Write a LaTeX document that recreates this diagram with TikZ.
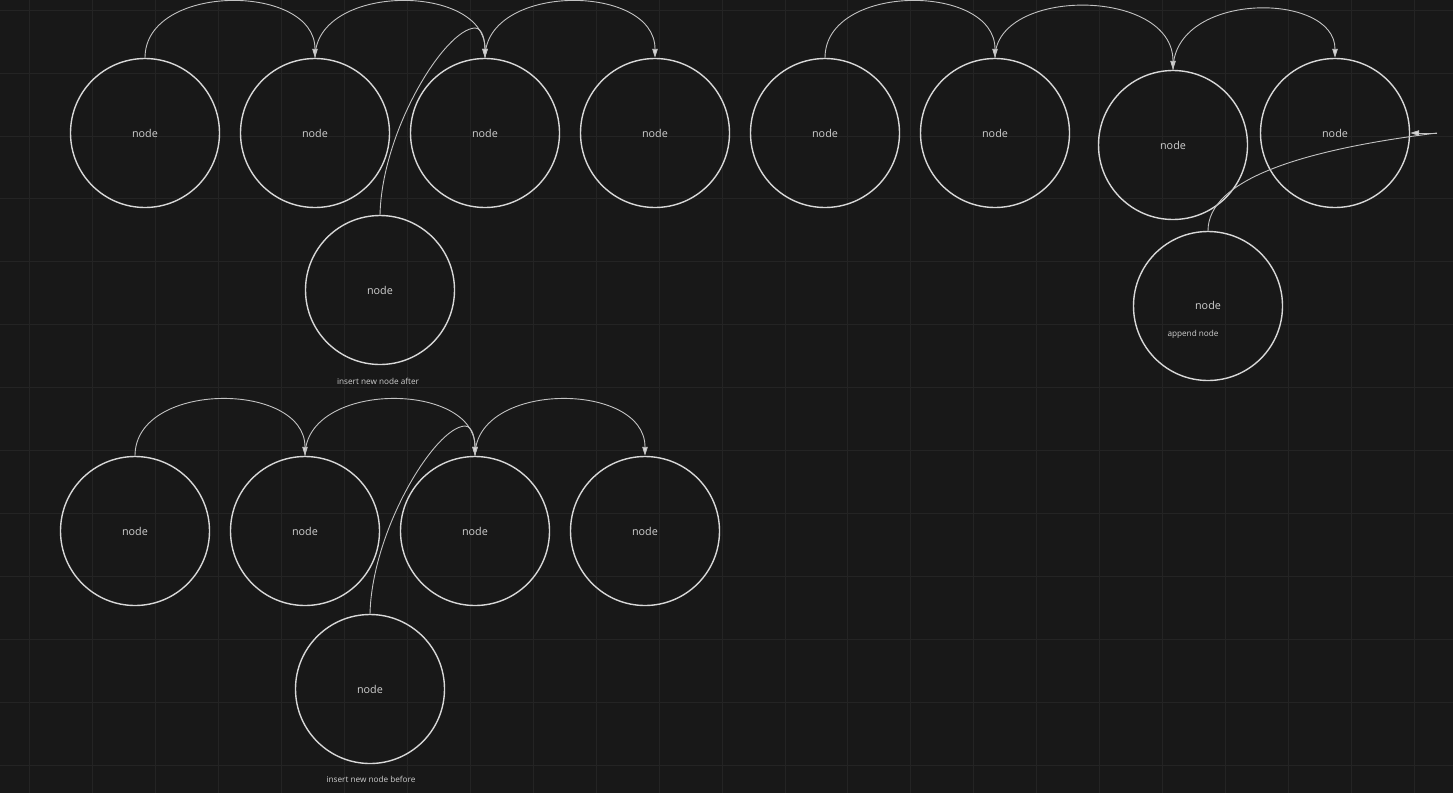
\documentclass[tikz,border=0pt]{standalone}
\usepackage{fontspec}
\setmainfont{Open Sans}
\usetikzlibrary{arrows.meta}
\definecolor{bgc}{HTML}{181818}
\definecolor{gridc}{HTML}{242424}
\definecolor{strokec}{HTML}{D8D8D8}
\definecolor{textc}{HTML}{CFCFCF}
\tikzset{
  nodecirc/.style={circle,draw=strokec,line width=1.4pt,minimum size=149pt,inner sep=0pt,
    text=textc,font=\fontsize{10.8}{12}\selectfont},
  conn/.style={draw=strokec!90!black,line width=0.9pt},
  arr/.style={conn,-{Triangle[width=5.5pt,length=9pt,fill=strokec]}},
  lbl/.style={text=textc,font=\fontsize{8.2}{10}\selectfont,inner sep=0pt},
  gridline/.style={draw=gridc,line width=0.8pt}
}
\begin{document}
\begin{tikzpicture}[x=1pt,y=-1pt]
\useasboundingbox (0,0) rectangle (1453,793);
\fill[bgc] (0,0) rectangle (1453,793);
\foreach \i in {0,...,22} \draw[gridline] ({29.5+62.95*\i},0) -- ({29.5+62.95*\i},793);
\foreach \i in {0,...,12} \draw[gridline] (0,{10+62.95*\i}) -- (1453,{10+62.95*\i});

% row 1
\node[nodecirc] (a1) at (145,133) {node};
\node[nodecirc] (a2) at (315,133) {node};
\node[nodecirc] (a3) at (485,133) {node};
\node[nodecirc] (a4) at (655,133) {node};
\node[nodecirc] (ins1) at (380,290) {node};
\node[lbl] (l1) at (378,381) {insert new node after};

\node[nodecirc] (c1) at (825,133) {node};
\node[nodecirc] (c2) at (995,133) {node};
\node[nodecirc] (c3) at (1173,145) {node};
\node[nodecirc] (c4) at (1335,133) {node};
\node[nodecirc] (app) at (1208,306) {};
\node[text=textc,font=\fontsize{10.8}{12}\selectfont,inner sep=0pt] (appt) at (1208,305) {node};
\node[lbl] (l2) at (1193,334) {append node};

% row 2
\node[nodecirc] (b1) at (135,531) {node};
\node[nodecirc] (b2) at (305,531) {node};
\node[nodecirc] (b3) at (475,531) {node};
\node[nodecirc] (b4) at (645,531) {node};
\node[nodecirc] (ins2) at (370,689) {node};
\node[lbl] (l3) at (371,779) {insert new node before};

% connectors row 1
\draw[arr] (a1.north) .. controls +(0,-75) and +(0,-75) .. (a2.north);
\draw[arr] (a2.north) .. controls +(0,-75) and +(0,-75) .. (a3.north);
\draw[arr] (a3.north) .. controls +(0,-75) and +(0,-75) .. (a4.north);
\draw[arr] (ins1.north) .. controls (382,130) and (445,29) .. (475,28) .. controls (483,28) and (485,42) .. (a3.north);

\draw[arr] (c1.north) .. controls +(0,-75) and +(0,-75) .. (c2.north);
\draw[arr] (c2.north) .. controls (995,-13) and (1173,-13) .. (c3.north);
\draw[arr] (c3.north) .. controls (1173,-9) and (1335,-9) .. (c4.north);

\coordinate (append end) at (1437,133);
\draw[conn] (app.north) .. controls (1208,180) and (1300,150) .. (append end);
\draw[arr] (append end) -- (c4.east);

% connectors row 2
\draw[arr] (b1.north) .. controls +(0,-75) and +(0,-75) .. (b2.north);
\draw[arr] (b2.north) .. controls +(0,-75) and +(0,-75) .. (b3.north);
\draw[arr] (b3.north) .. controls +(0,-75) and +(0,-75) .. (b4.north);
\draw[arr] (ins2.north) .. controls (372,530) and (435,427) .. (465,426) .. controls (473,426) and (475,440) .. (b3.north);
\end{tikzpicture}
\end{document}
